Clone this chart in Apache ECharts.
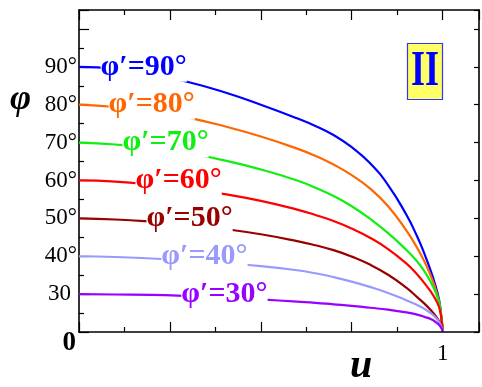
<!DOCTYPE html>
<html><head><meta charset="utf-8">
<script src="https://cdn.jsdelivr.net/npm/echarts@6/dist/echarts.min.js"></script>
<style>html,body{margin:0;padding:0;background:#fff}#c{width:482px;height:387px}</style>
</head><body><div id="c"></div>
<script>
// u values (shared by all curves)
const uGrid = [0, 0.1, 0.2, 0.3, 0.4, 0.5, 0.6, 0.65, 0.7, 0.75, 0.8, 0.85, 0.9, 0.93, 0.95, 0.97, 0.98, 0.99, 0.995, 1];
// plotted φ positions (axis units; 20 is drawn as "0")
const phi90 = [90, 89.5, 88.0, 86.0, 83.3, 80.0, 76.4, 74.4, 72.0, 68.8, 64.6, 58.8, 51.0, 45.2, 40.6, 35.4, 32.3, 28.6, 25.2, 20.5];
const phi80 = [80, 79.4, 78.3, 76.6, 74.3, 71.6, 68.4, 66.5, 64.2, 61.4, 57.9, 53.2, 46.8, 42.2, 38.6, 34.2, 31.5, 28.1, 25.2, 20.5];
const phi70 = [70, 69.5, 68.6, 67.2, 65.3, 62.9, 60.0, 58.1, 55.9, 53.2, 49.9, 46.1, 41.7, 38.6, 36.0, 32.7, 30.6, 27.9, 25.2, 20.5];
const phi60 = [60, 59.7, 58.9, 57.8, 56.4, 54.6, 52.3, 50.9, 49.3, 47.3, 44.9, 41.9, 38.1, 35.2, 32.9, 30.3, 28.7, 26.6, 24.6, 20.5];
const phi50 = [50, 49.7, 49.1, 48.3, 47.2, 45.8, 44.0, 42.9, 41.6, 39.9, 37.8, 35.1, 31.7, 29.2, 27.5, 25.5, 24.3, 22.9, 21.9, 20.3];
const phi40 = [40, 39.8, 39.4, 38.9, 38.2, 37.4, 36.3, 35.5, 34.5, 33.3, 31.9, 30.3, 28.4, 27.1, 26.1, 24.8, 23.9, 22.7, 21.8, 20.3];
const phi30 = [30, 29.9, 29.8, 29.5, 29.1, 28.6, 28.0, 27.7, 27.3, 26.9, 26.4, 25.9, 25.2, 24.6, 24.0, 23.3, 22.7, 21.9, 21.3, 20.3];

const curveNames = ['φ′=90°', 'φ′=80°', 'φ′=70°', 'φ′=60°', 'φ′=50°', 'φ′=40°', 'φ′=30°'];
const curveValues = [phi90, phi80, phi70, phi60, phi50, phi40, phi30];
const curveColors = ['#0000ff', '#ff6600', '#11ee11', '#ff0000', '#990000', '#9999ff', '#9900ff'];
const labelU = [0.178, 0.2, 0.238, 0.274, 0.304, 0.345, 0.4];
const labelPhi = [90, 80, 70, 60, 50, 40, 30];

const yTickLabels = {20: '0', 30: '30', 40: '40°', 50: '50°', 60: '60°', 70: '70°', 80: '80°', 90: '90°'};
const xTickLabels = {1: '1'};

const SERIF = '"Liberation Serif", "Times New Roman", serif';

const chart = echarts.init(document.getElementById('c'), null, {renderer: 'canvas'});

const axisLineStyle = {color: '#000', width: 1.6};

const series = curveValues.map((vals, i) => ({
  type: 'line',
  name: curveNames[i],
  data: uGrid.map((u, k) => [u, vals[k]]),
  showSymbol: false,
  smooth: 0.5,
  lineStyle: {color: curveColors[i], width: 2.2},
  itemStyle: {color: curveColors[i]},
  markPoint: {
    symbol: 'circle',
    symbolSize: 0,
    silent: true,
    data: [{coord: [labelU[i], labelPhi[i]], value: curveNames[i]}],
    label: {
      show: true,
      position: 'inside',
      formatter: curveNames[i],
      color: curveColors[i],
      fontFamily: SERIF,
      fontWeight: 'bold',
      fontSize: 30,
      backgroundColor: '#fff',
      padding: [0, 0]
    }
  }
}));

chart.setOption({
  animation: false,
  backgroundColor: '#fff',
  grid: {left: 79, right: 1, top: 10, bottom: 55},
  xAxis: [{
    type: 'value', min: 0, max: 1.1, interval: 0.25,
    axisLine: {show: true, onZero: false, lineStyle: axisLineStyle},
    axisTick: {show: true, inside: true, length: 10, lineStyle: {color: '#000', width: 1.2}},
    minorTick: {show: true, splitNumber: 2, length: 5, lineStyle: {color: '#000', width: 1.2}},
    splitLine: {show: false},
    axisLabel: {
      margin: 10, color: '#000', fontFamily: SERIF, fontSize: 23,
      showMinLabel: true, showMaxLabel: true,
      formatter: v => xTickLabels[Math.round(v * 100) / 100] || ''
    }
  }, {
    type: 'value', position: 'top', min: 0, max: 1.1, interval: 0.25,
    axisLine: {show: true, onZero: false, lineStyle: axisLineStyle},
    axisTick: {show: true, inside: true, length: 10, lineStyle: {color: '#000', width: 1.2}},
    minorTick: {show: true, splitNumber: 2, length: 5, lineStyle: {color: '#000', width: 1.2}},
    splitLine: {show: false},
    axisLabel: {show: false}
  }],
  yAxis: [{
    type: 'value', min: 20, max: 105, interval: 10,
    axisLine: {show: true, onZero: false, lineStyle: axisLineStyle},
    axisTick: {show: true, inside: true, length: 10, lineStyle: {color: '#000', width: 1.2}},
    minorTick: {show: true, splitNumber: 2, length: 5, lineStyle: {color: '#000', width: 1.2}},
    splitLine: {show: false},
    axisLabel: {
      margin: 2, color: '#000', fontFamily: SERIF, fontSize: 23,
      showMinLabel: true,
      formatter: v => {
        const t = yTickLabels[v];
        if (t === undefined) return '';
        if (v === 20) return '{z|' + t + '}';
        if (t.indexOf('°') < 0) return '{p|' + t + '}';
        return t;
      },
      rich: {
        z: {fontFamily: SERIF, fontWeight: 'bold', fontSize: 27, color: '#000', padding: [22, 1, 0, 0]},
        p: {fontFamily: SERIF, fontSize: 23, color: '#000', padding: [0, 6, 0, 0]}
      }
    }
  }, {
    type: 'value', position: 'right', min: 20, max: 105, interval: 10,
    axisLine: {show: true, onZero: false, lineStyle: axisLineStyle},
    axisTick: {show: true, inside: true, length: 5, lineStyle: {color: '#000', width: 1.2}},
    splitLine: {show: false},
    axisLabel: {show: false}
  }],
  graphic: [
    {type: 'text', left: 10, top: 82, style: {text: 'φ', font: 'italic bold 36px ' + SERIF, fill: '#000'}},
    {type: 'text', left: 350, top: 347, style: {text: 'u', font: 'italic bold 40px ' + SERIF, fill: '#000'}},
    {type: 'rect', z: 10, shape: {x: 407.5, y: 43.5, width: 35, height: 56}, style: {fill: '#ffff66', stroke: '#3333ff', lineWidth: 1.2}},
    {type: 'text', z: 11, x: 425, y: 72, scaleY: 1.38, originX: 0, originY: 0,
     style: {text: 'II', font: 'bold 36px ' + SERIF, fill: '#0000ff', textAlign: 'center', textVerticalAlign: 'middle'}}
  ],
  series: series
});
</script>
</body></html>
